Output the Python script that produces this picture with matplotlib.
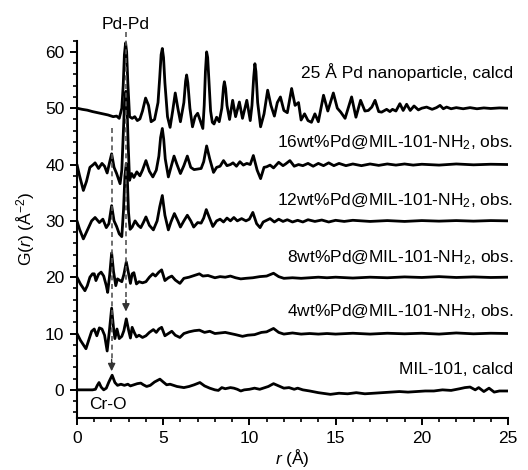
import matplotlib
matplotlib.use("Agg")
import matplotlib.pyplot as plt
from matplotlib.ticker import MultipleLocator

plt.rcParams['font.family'] = ['Liberation Sans', 'DejaVu Sans']
plt.rcParams['mathtext.fontset'] = 'custom'
plt.rcParams['mathtext.rm'] = 'Liberation Sans'
plt.rcParams['mathtext.it'] = 'Liberation Sans:italic'

# ---------------- data (G values relative to each curve's baseline) ----------------
offsets = [50, 40, 30, 20, 10, 0]
labels = ["25 Å Pd nanoparticle, calcd",
          "16wt%Pd@MIL-101-NH$_2$, obs.",
          "12wt%Pd@MIL-101-NH$_2$, obs.",
          "8wt%Pd@MIL-101-NH$_2$, obs.",
          "4wt%Pd@MIL-101-NH$_2$, obs.",
          "MIL-101, calcd"]
label_y = [56.4, 43.8, 33.6, 23.5, 13.8, 3.7]

r_pd25 = [0, 0.3, 0.6, 0.9, 1.2, 1.5, 1.8, 2.1, 2.3, 2.45, 2.6, 2.68, 2.75, 2.82, 2.88, 2.95,
          3.05, 3.2, 3.35, 3.5, 3.65, 3.8, 3.98, 4.15, 4.3, 4.5, 4.7, 4.8, 4.88, 4.95, 5.02,
          5.1, 5.25, 5.4, 5.55, 5.7, 5.85, 6.0, 6.2, 6.3, 6.36, 6.43, 6.55, 6.7, 6.85, 7.0,
          7.15, 7.3, 7.38, 7.45, 7.52, 7.58, 7.65, 7.75, 7.85, 7.95, 8.1, 8.25, 8.4, 8.5, 8.55,
          8.62, 8.7, 8.85, 9.03, 9.2, 9.42, 9.6, 9.85, 10.05, 10.15, 10.25, 10.32, 10.38,
          10.48, 10.65, 10.85, 11.06, 11.25, 11.45, 11.62, 11.8, 12.0, 12.2, 12.45, 12.65,
          12.85, 13.0, 13.2, 13.4, 13.6, 13.8, 14.0, 14.3, 14.55, 14.87, 15.1, 15.3, 15.55,
          15.93, 16.18, 16.45, 16.7, 16.9, 17.1, 17.29, 17.5, 17.67, 17.96, 18.15, 18.3, 18.5,
          18.73, 18.92, 19.12, 19.33, 19.55, 19.8, 20.0, 20.28, 20.6, 20.85, 21.06, 21.25,
          21.44, 21.7, 22.0, 22.4, 22.8, 23.2, 23.6, 24.0, 24.5, 25.0]
g_pd25 = [0.0, -0.2, -0.35, -0.6, -0.8, -1.0, -1.2, -1.5, -1.4, -1.8, 0.0, 4.0, 9.5, 11.6,
          10.0, 4.5, -1.5, -1.8, -1.5, -2.2, -1.9, -0.5, 1.8, 0.5, -2.4, -2.0, 1.0, 5.5, 9.5,
          10.6, 9.0, 4.5, -1.5, -3.4, -0.5, 2.7, 0.0, -2.4, 1.0, 4.8, 5.9, 4.5, 0.0, -3.3,
          -1.5, -0.9, -2.2, -3.6, 0.5, 6.5, 10.0, 9.0, 5.0, -0.5, -2.5, -2.8, -1.6, -2.4, 0.0,
          3.8, 4.7, 3.5, 0.5, -2.0, 1.4, -1.5, 1.1, -1.8, 1.4, -2.2, 0.5, 5.5, 7.9, 6.5, 1.0,
          -3.3, -1.0, 3.2, 0.5, -1.4, 1.0, 2.0, -0.4, -0.8, 3.5, 0.5, 1.0, -2.1, -1.0, -2.2,
          -2.5, -1.0, -2.4, 2.3, -0.5, 2.7, 0.0, -0.7, -1.8, 2.0, -1.6, 1.4, -0.5, -0.4, 0.2,
          1.4, -0.6, -0.7, -0.2, -0.6, -0.2, -0.5, 0.8, -0.4, 0.7, -0.4, 0.4, -0.3, 0.0, 0.2,
          -0.2, 0.1, 0.5, -0.1, 0.2, -0.1, 0.1, -0.1, 0.1, -0.1, 0.05, -0.05, 0.05, 0.0]

r_16 = [0, 0.15, 0.37, 0.55, 0.75, 0.95, 1.05, 1.25, 1.45, 1.6, 1.75, 1.9, 2.01, 2.15, 2.3,
        2.5, 2.6, 2.68, 2.76, 2.84, 2.9, 2.97, 3.05, 3.17, 3.3, 3.47, 3.65, 3.8, 4.0, 4.2,
        4.4, 4.6, 4.75, 4.85, 4.95, 5.03, 5.12, 5.3, 5.45, 5.63, 5.8, 6.0, 6.2, 6.4, 6.6,
        6.79, 7.0, 7.2, 7.35, 7.52, 7.7, 7.92, 8.1, 8.3, 8.5, 8.7, 8.9, 9.05, 9.25, 9.45,
        9.65, 9.85, 10.05, 10.23, 10.45, 10.65, 10.85, 11.0, 11.2, 11.4, 11.7, 11.95, 12.1,
        12.35, 12.6, 12.85, 13.1, 13.4, 13.7, 14.0, 14.3, 14.6, 14.9, 15.2, 15.6, 16.0, 16.5,
        17.0, 17.5, 18.0, 18.5, 19.0, 19.5, 20.0, 21.0, 22.0, 23.0, 24.0, 25.0]
g_16 = [0.0, -2.0, -4.6, -3.0, -0.5, 0.0, 0.3, -0.7, 0.2, -0.3, -1.5, 0.5, 1.9, -0.5, -1.6,
        -3.4, -1.0, 5.0, 11.0, 13.0, 10.5, 3.5, -2.8, -1.6, -2.3, -1.3, -2.0, -1.0, 0.7,
        -1.2, -2.2, -1.0, 1.5, 4.8, 6.4, 4.5, 1.0, -2.2, -0.5, 1.5, 0.0, -1.6, -0.2, 1.5,
        -0.5, -0.9, -0.8, -0.7, 0.5, 3.3, 1.0, -1.4, -0.5, -0.3, 0.7, -0.2, 0.0, 0.3, -0.3,
        0.5, -0.1, 0.2, 0.0, 1.6, -1.0, -2.5, -0.5, -0.4, -0.1, -0.6, 0.4, -0.2, 0.1, 0.7,
        -0.3, 0.0, -0.2, 0.2, -0.3, 0.2, -0.2, 0.3, -0.2, 0.2, -0.2, 0.1, -0.2, 0.1, -0.15,
        0.1, -0.1, 0.1, -0.1, 0.05, -0.1, 0.1, -0.05, 0.05, 0.0]

r_12 = [0, 0.15, 0.37, 0.55, 0.85, 1.05, 1.3, 1.5, 1.7, 1.85, 2.01, 2.15, 2.3, 2.45, 2.6,
        2.7, 2.78, 2.86, 2.92, 2.99, 3.08, 3.2, 3.37, 3.55, 3.7, 3.85, 4.0, 4.2, 4.43, 4.65,
        4.8, 4.95, 5.1, 5.3, 5.45, 5.65, 5.85, 6.0, 6.2, 6.4, 6.6, 6.77, 7.0, 7.2, 7.35, 7.5,
        7.65, 7.88, 8.1, 8.3, 8.5, 8.7, 8.9, 9.1, 9.3, 9.55, 9.8, 10.0, 10.2, 10.42, 10.62,
        10.8, 11.0, 11.2, 11.45, 11.7, 11.95, 12.2, 12.5, 12.8, 13.1, 13.4, 13.8, 14.2, 14.6,
        15.0, 15.5, 16.0, 17.0, 18.0, 19.0, 20.0, 21.0, 22.0, 23.0, 24.0, 25.0]
g_12 = [0.0, -1.5, -3.2, -2.0, 0.0, 0.6, -0.3, 0.3, -1.2, -0.5, 2.7, 0.0, -1.0, -2.3, -2.8,
        2.0, 8.0, 10.2, 7.5, 1.5, -1.5, -1.1, 0.0, -0.8, -1.2, -0.3, 0.7, -0.8, -1.6, 0.0,
        2.5, 4.5, 1.0, -1.6, -0.2, 1.3, 0.0, -1.1, 0.0, 1.0, 0.0, -1.1, -0.3, -0.4, 0.5, 2.0,
        0.8, -1.0, 0.0, 0.3, -0.2, 0.5, 0.0, 0.6, 0.0, 0.4, 0.0, 0.3, 1.5, -0.5, -1.2, -0.2,
        0.1, 0.4, -0.2, 0.3, -0.1, 0.2, -0.2, 0.1, -0.2, 0.2, -0.1, 0.15, -0.2, 0.1, -0.1,
        0.1, -0.1, 0.05, -0.1, 0.05, -0.05, 0.05, -0.05, 0.05, 0.0]

r_8 = [0, 0.2, 0.46, 0.6, 0.75, 0.9, 1.0, 1.1, 1.25, 1.4, 1.55, 1.7, 1.78, 1.9, 2.01, 2.12,
       2.25, 2.35, 2.45, 2.6, 2.72, 2.86, 2.97, 3.1, 3.2, 3.3, 3.45, 3.6, 3.8, 4.0, 4.2, 4.4,
       4.55, 4.75, 4.91, 5.1, 5.3, 5.5, 5.7, 5.97, 6.2, 6.5, 6.8, 7.1, 7.3, 7.6, 8.0, 8.3,
       8.6, 8.9, 9.2, 9.5, 9.8, 10.2, 10.6, 11.0, 11.4, 11.7, 12.0, 12.5, 13.0, 13.5, 14.0,
       14.5, 15.0, 16.0, 17.0, 18.0, 19.0, 20.0, 21.0, 22.0, 23.0, 24.0, 25.0]
g_8 = [0.0, -1.2, -2.4, -1.5, 0.0, 0.6, 0.6, -0.6, 0.5, 0.9, 0.2, -1.5, -2.7, 0.5, 4.3, 1.0,
       -1.5, -0.3, -0.5, -0.8, 0.5, 2.7, 1.0, -1.1, 0.6, 0.8, -1.2, -0.8, -1.0, -0.8, 0.0, 0.6,
       0.2, 0.9, 1.3, -0.6, -0.1, 0.2, -0.5, -1.1, -0.2, 0.0, 0.3, 0.6, 0.2, 0.3, -0.1, 0.1,
       0.0, 0.2, -0.1, -0.3, -0.2, -0.1, 0.1, 0.2, 0.7, 0.1, -0.2, -0.1, -0.2, -0.1, 0.0,
       -0.1, 0.0, -0.15, 0.0, -0.1, 0.05, -0.05, 0.1, -0.05, 0.05, -0.05, 0.0]

r_4 = [0, 0.2, 0.52, 0.7, 0.85, 1.0, 1.15, 1.3, 1.45, 1.6, 1.75, 1.88, 2.01, 2.12, 2.2, 2.32,
       2.45, 2.6, 2.72, 2.86, 3.0, 3.1, 3.2, 3.32, 3.45, 3.6, 3.8, 4.0, 4.2, 4.43, 4.6, 4.75,
       4.91, 5.1, 5.3, 5.5, 5.7, 5.97, 6.2, 6.5, 6.8, 7.1, 7.4, 7.7, 8.0, 8.3, 8.6, 8.9, 9.2,
       9.6, 9.9, 10.3, 10.7, 11.0, 11.4, 11.7, 12.0, 12.5, 13.0, 13.5, 14.0, 14.5, 15.0, 16.0,
       17.0, 18.0, 19.0, 20.0, 21.0, 22.0, 23.0, 24.0, 25.0]
g_4 = [0.0, -1.2, -2.7, -1.0, 0.4, 0.8, -0.4, 1.0, 0.8, -0.3, -3.1, 0.5, 4.5, 1.0, -0.9, 0.8,
       -0.9, -0.5, 0.5, 2.6, 0.5, -0.8, 1.1, 0.2, -0.6, -0.3, -0.7, -0.4, 0.2, 0.7, 0.2, 0.8,
       1.1, -0.4, 0.0, 0.4, -0.3, -0.7, 0.0, 0.3, 0.5, 0.6, 0.2, 0.4, 0.0, 0.1, 0.2, 0.0, -0.2,
       -0.5, -0.3, -0.2, 0.2, 0.3, 0.9, 0.2, -0.1, 0.1, -0.1, 0.0, -0.1, 0.0, -0.1, 0.05, -0.1,
       0.05, -0.05, 0.05, -0.1, 0.1, -0.05, 0.05, 0.0]

r_mil = [0, 0.5, 0.9, 1.07, 1.18, 1.28, 1.4, 1.55, 1.7, 1.85, 2.04, 2.2, 2.35, 2.55, 2.75,
         2.95, 3.1, 3.3, 3.5, 3.7, 3.85, 4.04, 4.25, 4.5, 4.81, 5.0, 5.2, 5.4, 5.6, 5.8, 6.0,
         6.2, 6.5, 6.8, 7.13, 7.4, 7.7, 8.0, 8.2, 8.4, 8.6, 8.9, 9.1, 9.3, 9.5, 9.7, 10.0,
         10.3, 10.6, 10.9, 11.1, 11.4, 11.7, 12.0, 12.3, 12.6, 12.8, 13.1, 13.5, 14.0, 14.7,
         15.2, 15.7, 16.2, 16.7, 17.2, 17.7, 18.2, 18.7, 19.2, 19.7, 20.2, 20.7, 21.2, 21.7,
         22.2, 22.5, 22.8, 23.1, 23.3, 23.6, 23.9, 24.2, 24.5, 25.0]
g_mil = [0.0, 0.0, 0.0, 0.1, 0.8, 1.3, 0.5, 0.0, 0.3, 1.4, 2.6, 1.3, 0.8, 1.0, 0.8, 1.0, 0.7,
         0.9, 1.1, 1.2, 0.9, 0.6, 0.8, 1.4, 1.9, 1.4, 0.9, 1.0, 0.8, 0.6, 0.5, 0.4, 0.6, 0.9,
         1.3, 0.7, 0.3, 0.0, -0.1, 0.4, 0.2, 0.4, 0.3, 0.1, -0.2, 0.0, 0.1, 0.3, 0.1, 0.4, 0.6,
         1.1, 0.7, 0.3, 0.4, 0.1, 0.3, 0.0, -0.2, -0.5, -0.8, -0.6, -0.7, -0.5, -0.7, -0.6,
         -0.5, -0.4, -0.3, -0.4, -0.3, -0.2, -0.2, 0.0, -0.1, 0.2, 0.4, 0.5, 0.0, 0.4, -0.3,
         0.3, -0.4, -0.2, -0.2]

series_r = [r_pd25, r_16, r_12, r_8, r_4, r_mil]
series_g = [g_pd25, g_16, g_12, g_8, g_4, g_mil]

# annotation positions (r, G)
pd_pd_r = 2.84
cr_o_r = 2.01

# ---------------- figure ----------------
fig = plt.figure(figsize=(5.28, 4.70), dpi=100)
ax = fig.add_axes([0.1458, 0.1106, 0.8163, 0.803])

for rr, gg, off in zip(series_r, series_g, offsets):
    ax.plot(rr, [v + off for v in gg], color='black', lw=2.0,
            solid_joinstyle='round', solid_capstyle='round', zorder=3)

for txt, yy in zip(labels, label_y):
    ax.text(25.3, yy, txt, ha='right', va='center', fontsize=12.5, clip_on=False)

# dashed guide lines with arrows
dash_col = '#555555'
ax.plot([pd_pd_r, pd_pd_r], [63.6, 15.0], ls=(0, (3.0, 2.2)), color=dash_col, lw=1.2,
        clip_on=False, zorder=4)
ax.annotate('', xy=(pd_pd_r, 13.9), xytext=(pd_pd_r, 16.0),
            arrowprops=dict(arrowstyle='-|>,head_length=0.45,head_width=0.22',
                            color='#333333', lw=1.0, shrinkA=0, shrinkB=0), zorder=4)
ax.plot([cr_o_r, cr_o_r], [46.4, 4.4], ls=(0, (3.0, 2.2)), color=dash_col, lw=1.2, zorder=4)
ax.annotate('', xy=(cr_o_r, 3.3), xytext=(cr_o_r, 5.4),
            arrowprops=dict(arrowstyle='-|>,head_length=0.45,head_width=0.22',
                            color='#333333', lw=1.0, shrinkA=0, shrinkB=0), zorder=4)

ax.text(pd_pd_r, 64.8, "Pd-Pd", ha='center', va='center', fontsize=12.5, clip_on=False)
ax.text(1.8, -2.6, "Cr-O", ha='center', va='center', fontsize=12.5)

ax.set_xlim(0, 25)
ax.set_ylim(-5, 62)
ax.spines['top'].set_visible(False)
ax.spines['right'].set_visible(False)
for s in ['left', 'bottom']:
    ax.spines[s].set_linewidth(1.5)

ax.xaxis.set_major_locator(MultipleLocator(5))
ax.xaxis.set_minor_locator(MultipleLocator(1))
ax.yaxis.set_major_locator(MultipleLocator(10))
ax.yaxis.set_minor_locator(MultipleLocator(2))
ax.tick_params(which='major', direction='out', length=5, width=1.4, labelsize=12.5, pad=4)
ax.tick_params(which='minor', direction='out', length=3, width=1.2)

ax.set_xlabel(r"$\it{r}$ (Å)", fontsize=12.5, labelpad=1)
ax.set_ylabel(r"G($\it{r}$) (Å$^{-2}$)", fontsize=12.5, labelpad=6)

fig.savefig("out.png", dpi=100)
